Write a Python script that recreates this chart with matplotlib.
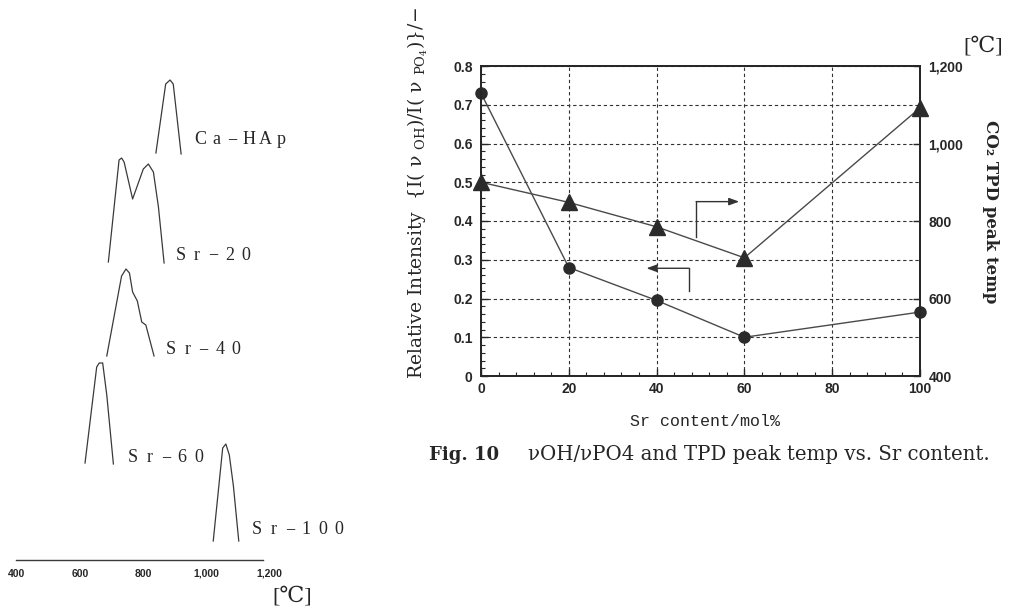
import matplotlib
matplotlib.use('Agg')
import matplotlib.pyplot as plt
import matplotlib.transforms as mtransforms
from matplotlib.ticker import MultipleLocator, FixedLocator, FuncFormatter

plt.rcParams['mathtext.fontset'] = 'dejavuserif'

# ---------------- data ----------------
sr_content = [0, 20, 40, 60, 100]                 # mol%
rel_intensity = [0.73, 0.28, 0.195, 0.10, 0.165]  # I(vOH)/I(vPO4)
tpd_peak_temp = [900, 848, 785, 705, 1092]        # CO2 TPD peak temp (degC)

x_ticks = [0, 20, 40, 60, 80, 100]
left_ticks = [0, 0.1, 0.2, 0.3, 0.4, 0.5, 0.6, 0.7, 0.8]
right_ticks = [400, 600, 800, 1000, 1200]

# arrows indicating which axis each curve belongs to (x, y in left-axis units)
arrow_right_path = [(49, 0.36), (49, 0.45), (58.8, 0.45)]
arrow_left_path = [(47.3, 0.22), (47.3, 0.278), (37.7, 0.278)]

# TPD profiles (temperature degC, relative signal height)
profile_names = ['Ca−HAp', 'Sr−20', 'Sr−40', 'Sr−60', 'Sr−100']
profile_temps = [
    [841, 872, 886, 896, 921],
    [690, 724, 732, 740, 767, 801, 817, 833, 849, 867],
    [685, 732, 746, 757, 767, 782, 796, 809, 835],
    [616, 653, 661, 672, 685, 706],
    [1023, 1053, 1063, 1074, 1087, 1104],
]
profile_heights = [
    [1, 70, 74, 70, 0],
    [1, 103, 105, 101, 64, 94, 99, 91, 56, 0],
    [0, 80, 87, 83, 64, 55, 34, 31, 0],
    [1, 97, 101, 101, 69, 0],
    [0, 93, 97, 86, 55, 0],
]
temp_ticks = [400, 600, 800, 1000, 1200]

# ---------------- layout ----------------
W, H = 1009, 608
fig = plt.figure(figsize=(W / 100, H / 100), dpi=100)
fig.patch.set_facecolor('white')


def fx(px):
    return px / W


def fy(py):
    return 1 - py / H


sans_narrow = ['Liberation Sans Narrow', 'Liberation Sans']
serif = ['DejaVu Serif', 'Liberation Serif']
ink = '#262626'

# ---------------- main dual-axis chart ----------------
ax = fig.add_axes([fx(481), fy(376), (920 - 481) / W, (376 - 66) / H])
ax.set_xlim(0, 100)
ax.set_ylim(0, 0.8)
ax2 = ax.twinx()
ax2.set_ylim(400, 1200)

ax.xaxis.set_major_locator(FixedLocator(x_ticks))
ax.xaxis.set_minor_locator(MultipleLocator(4))
ax.yaxis.set_major_locator(FixedLocator(left_ticks))
ax.yaxis.set_minor_locator(MultipleLocator(0.02))
ax2.yaxis.set_major_locator(FixedLocator(right_ticks))

ax.yaxis.set_major_formatter(FuncFormatter(lambda v, p: '0' if abs(v) < 1e-9 else f'{v:.1f}'))
ax.xaxis.set_major_formatter(FuncFormatter(lambda v, p: f'{v:.0f}'))
ax2.yaxis.set_major_formatter(FuncFormatter(lambda v, p: f'{v:,.0f}'))

ax.tick_params(axis='both', which='major', direction='in', length=5, width=1, color=ink)
ax.tick_params(axis='both', which='minor', direction='in', length=3, width=0.8, color=ink)
ax.tick_params(axis='x', pad=4)
ax.tick_params(axis='y', pad=6)
ax2.tick_params(axis='y', which='major', direction='in', length=5, width=1, pad=6, color=ink)
for lab in ax.get_xticklabels() + ax.get_yticklabels() + ax2.get_yticklabels():
    lab.set_fontfamily(sans_narrow)
    lab.set_fontweight('bold')
    lab.set_fontsize(10)
    lab.set_color(ink)

for a in (ax, ax2):
    for s in a.spines.values():
        s.set_linewidth(1.3)
        s.set_color(ink)

ax.grid(True, which='major', linestyle=(0, (3, 2.5)), color='#333333', linewidth=0.8)
ax.set_axisbelow(True)

ax.plot(sr_content, rel_intensity, color='#4a4a4a', lw=1.0, marker='o', ms=8,
        mfc='#2b2b2b', mec='#2b2b2b', clip_on=False, zorder=4)
ax2.plot(sr_content, tpd_peak_temp, color='#4a4a4a', lw=1.0, marker='^', ms=12,
         mfc='#2b2b2b', mec='#2b2b2b', clip_on=False, zorder=4)

for path in (arrow_right_path, arrow_left_path):
    ax.plot([path[0][0], path[1][0]], [path[0][1], path[1][1]], color='#333333', lw=1.0, zorder=5)
    ax.annotate('', xy=path[2], xytext=path[1],
                arrowprops=dict(arrowstyle='-|>,head_length=0.6,head_width=0.22',
                                color='#333333', lw=1.0, shrinkA=0, shrinkB=0), zorder=5)

# axis labels and caption
fig.text(fx(418), fy(193),
         'Relative Intensity  {I( ν $_{\\rm OH}$)/I( ν $_{\\rm PO_4}$)}/−',
         rotation=90, ha='center', va='center', fontsize=13.5, family=serif, color=ink)
fig.text(fx(991), fy(212), 'CO₂ TPD peak temp', rotation=270, ha='center', va='center',
         fontsize=12, fontweight='bold', family=serif, color=ink)
fig.text(fx(705), fy(422), 'Sr content/mol%', ha='center', va='center', fontsize=12,
         family=['Liberation Mono', 'DejaVu Sans Mono'], color=ink)
fig.text(fx(429), fy(455), 'Fig. 10', ha='left', va='center', fontsize=13, fontweight='bold',
         family=serif, color=ink)
fig.text(fx(528), fy(455), 'νOH/νPO4 and TPD peak temp vs. Sr content.', ha='left', va='center',
         fontsize=14.2, family=serif, color=ink)
fig.text(fx(983), fy(47), '[℃]', ha='center', va='center', fontsize=16,
         family=['Liberation Serif', 'DejaVu Serif', 'Noto Sans CJK JP'], color=ink)

# ---------------- TPD profiles panel ----------------
axL = fig.add_axes([fx(17), 0, (269 - 17) / W, 1])
axL.set_xlim(400, 1200)
axL.set_ylim(0, H)
axL.axis('off')

profile_baselines = [454, 345, 252, 144, 67]
label_anchor = [(955, 468), (894, 353), (863, 258), (743, 150), (1137, 78)]
cell_pt = 16.3 * 72 / 100   # full-width character pitch
for name, tt, hh, base, (lx, ly) in zip(profile_names, profile_temps, profile_heights,
                                         profile_baselines, label_anchor):
    axL.plot(tt, [base + h for h in hh], color='#3a3a3a', lw=0.9, clip_on=False)
    for i, ch in enumerate(name):
        tr = mtransforms.offset_copy(axL.transData, fig=fig, x=cell_pt * (i + 0.5), y=0,
                                     units='points')
        axL.text(lx, ly, ch, transform=tr, ha='center', va='center', fontsize=13,
                 family=['Liberation Serif', 'DejaVu Serif'], color=ink, clip_on=False)

axL.plot([397, 1181], [48, 48], color='#3a3a3a', lw=1.0, clip_on=False)
for t in temp_ticks:
    axL.text(t, 34, f'{t:,}', ha='center', va='center', fontsize=7.5, fontweight='bold',
             family=sans_narrow, color=ink, clip_on=False)
fig.text(fx(292), fy(597), '[℃]', ha='center', va='center', fontsize=16,
         family=['Liberation Serif', 'DejaVu Serif', 'Noto Sans CJK JP'], color=ink)

fig.savefig('out.png', dpi=100, facecolor='white')
